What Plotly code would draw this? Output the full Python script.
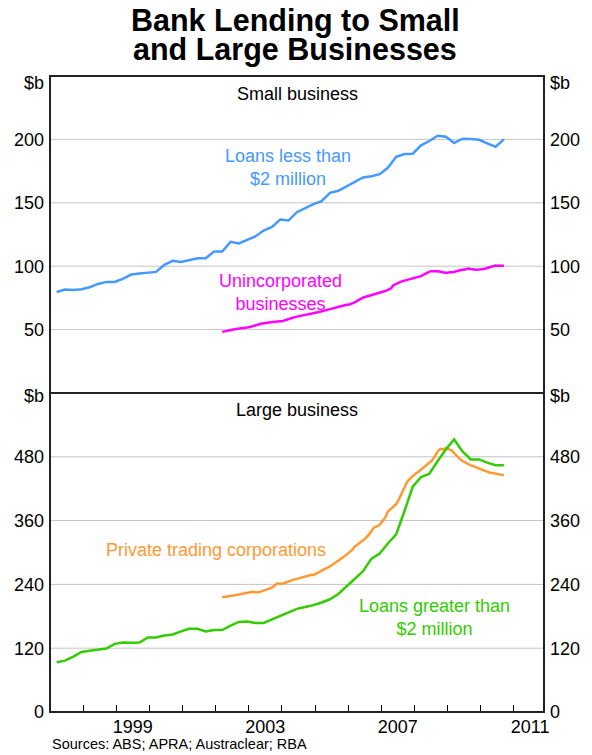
import pandas as pd
import plotly.graph_objects as go

# ---------------- data ----------------
# quarterly series (Q1 1997 - Q3 2010)
quarter_dates = pd.date_range("1997-02-15", periods=55, freq="3MS") + pd.Timedelta(days=14)
loans_less_2m = [79.7, 81.6, 81.3, 81.8, 83.4, 86, 87.6, 87.6, 90, 93.4,
                 94.2, 95, 95.5, 101, 104.2, 103.4, 105, 106.3, 106.3, 111.6,
                 111.6, 119.2, 117.9, 120.5, 123.4, 128.1, 131, 136.8, 136, 142.6,
                 145.8, 149, 151.3, 157.9, 159.5, 162.9, 166.8, 170, 171, 172.6,
                 177.6, 186.3, 188.4, 188.7, 195.3, 198.7, 202.9, 202.1, 197.1, 200.5,
                 200.3, 199.7, 196.8, 194.2, 200]
loans_greater_2m = [93.5, 96.6, 104.2, 113, 115, 117.5, 119.4, 128.2, 130.7, 130.1,
                    130.7, 140.2, 140.2, 144, 145.9, 151.6, 156.6, 156.6, 151.6, 154.1,
                    154.1, 162.5, 169.5, 170, 167.5, 167.5, 174, 181, 188, 194,
                    197.5, 201, 206, 212, 222, 236, 250, 265, 288.5, 298,
                    317, 334, 378, 424, 442, 448, 472, 494, 513, 490,
                    475, 475, 469, 464, 464]

# monthly series (Mar 2002 - Sep 2010)
month_dates = pd.date_range("2002-03-01", periods=103, freq="MS") + pd.Timedelta(days=14)
unincorporated = [48.2, 48.8, 49.5, 49.8, 50.1, 50.4, 50.6, 50.9, 51.3, 51.6,
                  52.0, 52.8, 53.5, 54.1, 54.6, 55.0, 55.4, 55.8, 56.0, 56.2,
                  56.4, 56.5, 56.8, 57.6, 58.4, 59.0, 59.6, 60.2, 60.6, 61.2,
                  62.0, 62.4, 62.6, 62.9, 63.2, 63.8, 64.4, 65.0, 65.6, 66.3,
                  67.1, 67.6, 68.2, 68.8, 69.3, 69.6, 69.8, 70.6, 71.4, 72.8,
                  74.2, 75.2, 75.9, 76.5, 77.1, 77.6, 78.2, 78.8, 79.5, 80.4,
                  81.3, 82.2, 85.0, 86.1, 87.1, 88.0, 88.6, 89.1, 89.6, 90.3,
                  91.0, 91.4, 92.2, 93.3, 94.8, 95.7, 96.1, 96.2, 96.0, 95.6,
                  94.9, 94.7, 95.0, 95.2, 95.5, 96.2, 96.9, 97.2, 97.3, 98.2,
                  97.8, 97.4, 97.2, 97.3, 97.5, 98.0, 98.6, 99.3, 100.0, 100.5,
                  100.4, 100.5, 100.4]
private_trading = [216, 216.5, 217, 218, 219, 220, 221, 221.5, 222.5, 223,
                   224, 226, 225, 225, 226.5, 228, 230, 232, 234, 238,
                   242, 241, 241.5, 243.5, 246, 247.6, 249, 250.5, 252, 254,
                   255.5, 257, 257.5, 257.8, 260, 263, 266, 268.5, 271, 274,
                   277.5, 281, 284, 288, 292, 296, 300, 305, 311, 315,
                   318, 322, 327, 333, 341, 347.5, 349, 352, 359, 366,
                   377, 382, 386, 391, 400, 411, 422, 433, 439, 444,
                   448, 452, 456, 460, 464.5, 468, 473, 481, 490, 495,
                   494, 496.5, 494, 492, 487, 481, 476, 472, 469, 466.5,
                   464, 462, 460, 458, 455.5, 453, 451, 450, 449.5, 448.5,
                   447.5, 446, 445]

top_ticks = [50, 100, 150, 200, 245]
top_tick_text = ["50", "100", "150", "200", "$b"]
bottom_ticks = [0, 120, 240, 360, 480, 595]
bottom_tick_text = ["0", "120", "240", "360", "480", "$b"]
year_labels = ["1999", "2003", "2007", "2011"]
year_label_pos = ["1999-07-02", "2003-07-02", "2007-07-02", "2011-07-02"]

# ---------------- styles ----------------
FONT = "Liberation Sans, Arial, sans-serif"
BLUE = "#4499FF"
MAGENTA = "#FF00FF"
ORANGE = "#FF9933"
GREEN = "#33CC00"
GRID = "#C4C4C4"
SPLIT = 0.5016

fig = go.Figure()
fig.add_trace(go.Scatter(x=quarter_dates, y=loans_less_2m, mode="lines",
                         line=dict(color=BLUE, width=2.5), xaxis="x", yaxis="y"))
fig.add_trace(go.Scatter(x=month_dates, y=unincorporated, mode="lines",
                         line=dict(color=MAGENTA, width=2.5), xaxis="x", yaxis="y"))
fig.add_trace(go.Scatter(x=month_dates, y=private_trading, mode="lines",
                         line=dict(color=ORANGE, width=2.5), xaxis="x", yaxis="y2"))
fig.add_trace(go.Scatter(x=quarter_dates, y=loans_greater_2m, mode="lines",
                         line=dict(color=GREEN, width=2.5), xaxis="x", yaxis="y2"))

tickfont = dict(family=FONT, size=18, color="black")

common_y = dict(showline=False, zeroline=False, ticks="", tickfont=tickfont,
                tickmode="array", ticklabelstandoff=5, fixedrange=True)

fig.update_layout(
    width=592, height=755,
    margin=dict(l=50, r=41, t=76, b=43),
    paper_bgcolor="white", plot_bgcolor="white",
    showlegend=False, hovermode=False,
    font=dict(family=FONT, color="black"),
    xaxis=dict(
        type="date", range=["1997-01-01", "2011-12-01"], anchor="y2",
        showgrid=False, zeroline=False, showline=False, fixedrange=True,
        tickmode="array", tickvals=year_label_pos, ticktext=year_labels,
        ticks="", tickfont=tickfont, ticklabelstandoff=2,
        minor=dict(tick0="1997-01-01", dtick="M12", ticks="inside",
                   ticklen=7, tickwidth=1, tickcolor="black", showgrid=False),
    ),
    yaxis=dict(domain=[SPLIT, 1], range=[0, 250], tickvals=top_ticks,
               ticktext=top_tick_text, showgrid=False, **common_y),
    yaxis3=dict(overlaying="y", side="right", range=[0, 250], tickvals=top_ticks,
                ticktext=top_tick_text, showgrid=False, **common_y),
    yaxis2=dict(domain=[0, SPLIT], range=[0, 600], tickvals=bottom_ticks,
                ticktext=bottom_tick_text, showgrid=False, **common_y),
    yaxis4=dict(overlaying="y2", side="right", range=[0, 600], tickvals=bottom_ticks,
                ticktext=bottom_tick_text, showgrid=False, **common_y),
)

# dummy traces to make right axes render
fig.add_trace(go.Scatter(x=[None], y=[None], xaxis="x", yaxis="y3", showlegend=False))
fig.add_trace(go.Scatter(x=[None], y=[None], xaxis="x", yaxis="y4", showlegend=False))

# horizontal gridlines (at the numeric ticks only)
for v in top_ticks[:-1]:
    fig.add_shape(type="line", xref="paper", yref="y", x0=0, x1=1, y0=v, y1=v,
                  line=dict(color=GRID, width=1), layer="below")
for v in bottom_ticks[1:-1]:
    fig.add_shape(type="line", xref="paper", yref="y2", x0=0, x1=1, y0=v, y1=v,
                  line=dict(color=GRID, width=1), layer="below")

# frame and panel divider
fig.add_shape(type="rect", xref="paper", yref="paper", x0=0, x1=1, y0=0, y1=1,
              line=dict(color="#222222", width=2), layer="above")
fig.add_shape(type="line", xref="paper", yref="paper", x0=0, x1=1, y0=SPLIT, y1=SPLIT,
              line=dict(color="#222222", width=2), layer="above")

def note(text, x, y, color, size=18, xanchor="center"):
    fig.add_annotation(text=text, x=x, y=y, xref="paper", yref="paper",
                       xanchor=xanchor, yanchor="middle", showarrow=False,
                       align="center" if xanchor == "center" else "left",
                       font=dict(family=FONT, size=size, color=color))

note("<b>Bank Lending to Small</b>", 0.496, 1.087, "black", size=30.5)
note("<b>and Large Businesses</b>", 0.495, 1.042, "black", size=30.5)
note("Small business", 0.5, 0.9717, "black")
note("Large business", 0.5, 0.4748, "black")
note("Loans less than<br>$2 million", 0.481, 0.856, BLUE)
note("Unincorporated<br>businesses", 0.467, 0.6596, MAGENTA)
note("Private trading corporations", 0.3363, 0.2547, ORANGE)
note("Loans greater than<br>$2 million", 0.7784, 0.1478, GREEN)
note("Sources: ABS; APRA; Austraclear; RBA", 0.0, -0.0503, "black", size=14.5, xanchor="left")

# remove the browser's default 8px page margin so the figure fills the window
fig.write_html("out.html", config={"displayModeBar": False, "staticPlot": True},
               post_script="document.body.style.margin='0px';")
